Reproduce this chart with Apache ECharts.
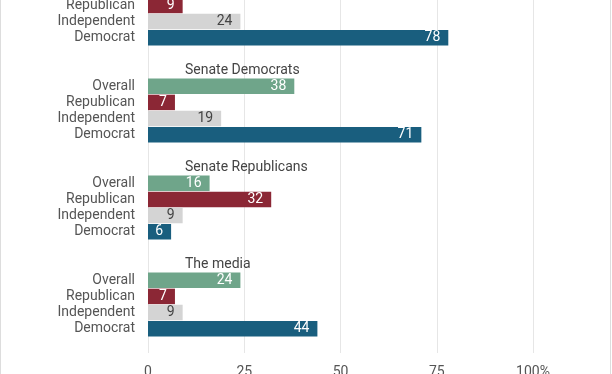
<!DOCTYPE html>
<html>
<head>
<meta charset="utf-8">
<script src="https://cdn.jsdelivr.net/npm/echarts@6/dist/echarts.min.js"></script>
<style>
html,body{margin:0;padding:0;background:#fff;overflow:hidden;width:612px;height:374px;}
#chart{position:absolute;left:0;top:-35px;width:612px;height:409px;}
</style>
</head>
<body>
<div id="chart"></div>
<script>
// ---- data ----
var groups = ['President Biden', 'Senate Democrats', 'Senate Republicans', 'The media'];
var parties = ['Overall', 'Republican', 'Independent', 'Democrat'];
// values per party, one per group (top group's Overall is off-canvas: estimate)
var overallValues     = [38, 38, 16, 24];
var republicanValues  = [9, 7, 32, 7];
var independentValues = [24, 19, 9, 9];
var democratValues    = [78, 71, 6, 44];
var xTicks = [0, 25, 50, 75, 100];

var partyValues = [overallValues, republicanValues, independentValues, democratValues];
var partyColors = ['#6fa58a', '#8b2735', '#d4d4d4', '#195e7e'];
var labelColors = ['#ffffff', '#ffffff', '#444444', '#ffffff'];

// build categories: header, 4 parties, gap per group
var categories = [];
groups.forEach(function (g) {
  categories.push(g + '|');
  parties.forEach(function (p) { categories.push(g + '|' + p); });
  categories.push(g + '|~gap');
});

var series = parties.map(function (p, pi) {
  var data = categories.map(function (c) {
    var parts = c.split('|');
    if (parts[1] !== p) return '-';
    return partyValues[pi][groups.indexOf(parts[0])];
  });
  return {
    type: 'bar', name: p, stack: 'all', data: data, barWidth: 15.5,
    itemStyle: { color: partyColors[pi] },
    label: {
      show: true, position: 'insideRight', distance: 8,
      color: labelColors[pi], fontFamily: 'Roboto', fontSize: 14
    },
    silent: true
  };
});
// group headers
series.push({
  type: 'bar', name: 'headers', stack: 'all', barWidth: 15.5,
  data: categories.map(function (c) { return c.split('|')[1] === '' ? 0 : '-'; }),
  itemStyle: { color: 'transparent' },
  label: {
    show: true, position: 'right', distance: 37,
    color: '#444', fontFamily: 'Roboto', fontSize: 14,
    formatter: function (p) { return p.name.split('|')[0]; }
  },
  silent: true
});

var chart = echarts.init(document.getElementById('chart'), null, { renderer: 'canvas' });
chart.setOption({
  animation: false,
  backgroundColor: '#ffffff',
  grid: { left: 148, right: 79, top: 0, bottom: 21, containLabel: false, outerBoundsMode: 'none' },
  xAxis: {
    type: 'value', min: 0, max: 100, interval: 25,
    axisLine: { show: false }, axisTick: { show: false },
    splitLine: { lineStyle: { color: '#e6e6e6', width: 1 } },
    axisLabel: {
      color: '#555', fontFamily: 'Roboto', fontSize: 14, margin: 12,
      formatter: function (v) { return v === 100 ? '100%' : String(v); }
    }
  },
  yAxis: {
    type: 'category', inverse: true, data: categories,
    axisLine: { show: false }, axisTick: { show: false },
    axisLabel: {
      interval: 0, color: '#555', fontFamily: 'Roboto', fontSize: 14, margin: 13,
      formatter: function (v) { var s = v.split('|')[1]; return (s === '' || s === '~gap') ? '' : s; }
    }
  },
  graphic: [
    { type: 'line', shape: { x1: 0.5, y1: 0, x2: 0.5, y2: 409 }, style: { stroke: '#dddddd', lineWidth: 1 } },
    { type: 'line', shape: { x1: 610.5, y1: 0, x2: 610.5, y2: 409 }, style: { stroke: '#dddddd', lineWidth: 1 } }
  ],
  series: series
});
</script>
</body>
</html>
